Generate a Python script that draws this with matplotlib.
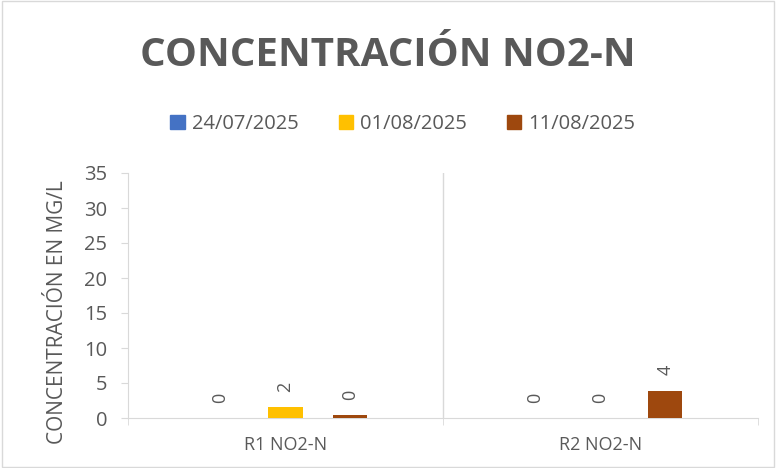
import numpy as np
import matplotlib.pyplot as plt
from matplotlib.patches import Rectangle

categories = ["R1 NO2-N", "R2 NO2-N"]
series_names = ["24/07/2025", "01/08/2025", "11/08/2025"]
values = {
    "24/07/2025": [0.0, 0.0],
    "01/08/2025": [1.6, 0.0],
    "11/08/2025": [0.4, 3.9],
}
colors = ["#4472C4", "#FFC000", "#9E480E"]
yticks = [0, 5, 10, 15, 20, 25, 30, 35]

gray = "#595959"
line_gray = "#D9D9D9"

plt.rcParams['font.family'] = ['Open Sans', 'DejaVu Sans']

fig = plt.figure(figsize=(7.76, 4.68), dpi=100)
fig.patches.append(Rectangle((0.002, 0.002), 0.996, 0.996, transform=fig.transFigure,
                             fill=False, edgecolor=line_gray, lw=1))

ax = fig.add_axes([128 / 776, 1 - 418 / 468, 630 / 776, 245 / 468])

x = np.arange(len(categories))
offsets = [-0.206, 0.0, 0.206]
width = 0.108
for name, off, c in zip(series_names, offsets, colors):
    vals = values[name]
    ax.bar(x + off, vals, width, color=c, label=name, zorder=3)
    for xi, v in zip(x + off, vals):
        ax.annotate(f"{v:.0f}", (xi, v), xytext=(0, 11), textcoords="offset points",
                    ha="center", va="bottom", rotation=90, fontsize=13, color=gray)

ax.set_xlim(-0.5, 1.5)
ax.set_ylim(0, 35)
ax.set_yticks(yticks)
ax.set_xticks(x)
ax.set_xticklabels(categories)
ax.set_xticks([-0.5, 0.5, 1.5], minor=True)
ax.tick_params(axis="x", which="major", length=0, pad=13, labelsize=13, labelcolor=gray)
ax.tick_params(axis="x", which="minor", length=5, color=line_gray)
ax.tick_params(axis="y", length=5, color=line_gray, labelsize=14.5, labelcolor=gray, pad=10)
ax.axvline(0.5, color=line_gray, lw=1, zorder=1)

for s in ["top", "right"]:
    ax.spines[s].set_visible(False)
ax.spines["left"].set_color(line_gray)
ax.spines["bottom"].set_color(line_gray)

ax.set_ylabel("CONCENTRACIÓN EN MG/L", fontsize=15, color=gray)
ax.yaxis.set_label_coords(-0.095, 0.433)

fig.text(0.5, 1 - 55 / 468, "CONCENTRACIÓN NO2-N", ha="center", va="center",
         fontsize=29, fontweight="bold", color=gray)

handles = [Rectangle((0, 0), 1, 1, color=c) for c in colors]
fig.legend(handles, series_names, loc="center", bbox_to_anchor=(0.519, 1 - 124 / 468),
           ncol=3, frameon=False, fontsize=14.5, labelcolor=gray,
           handlelength=0.7, handleheight=0.7, handletextpad=0.35, columnspacing=2.0)

fig.savefig("out.png", dpi=100)
